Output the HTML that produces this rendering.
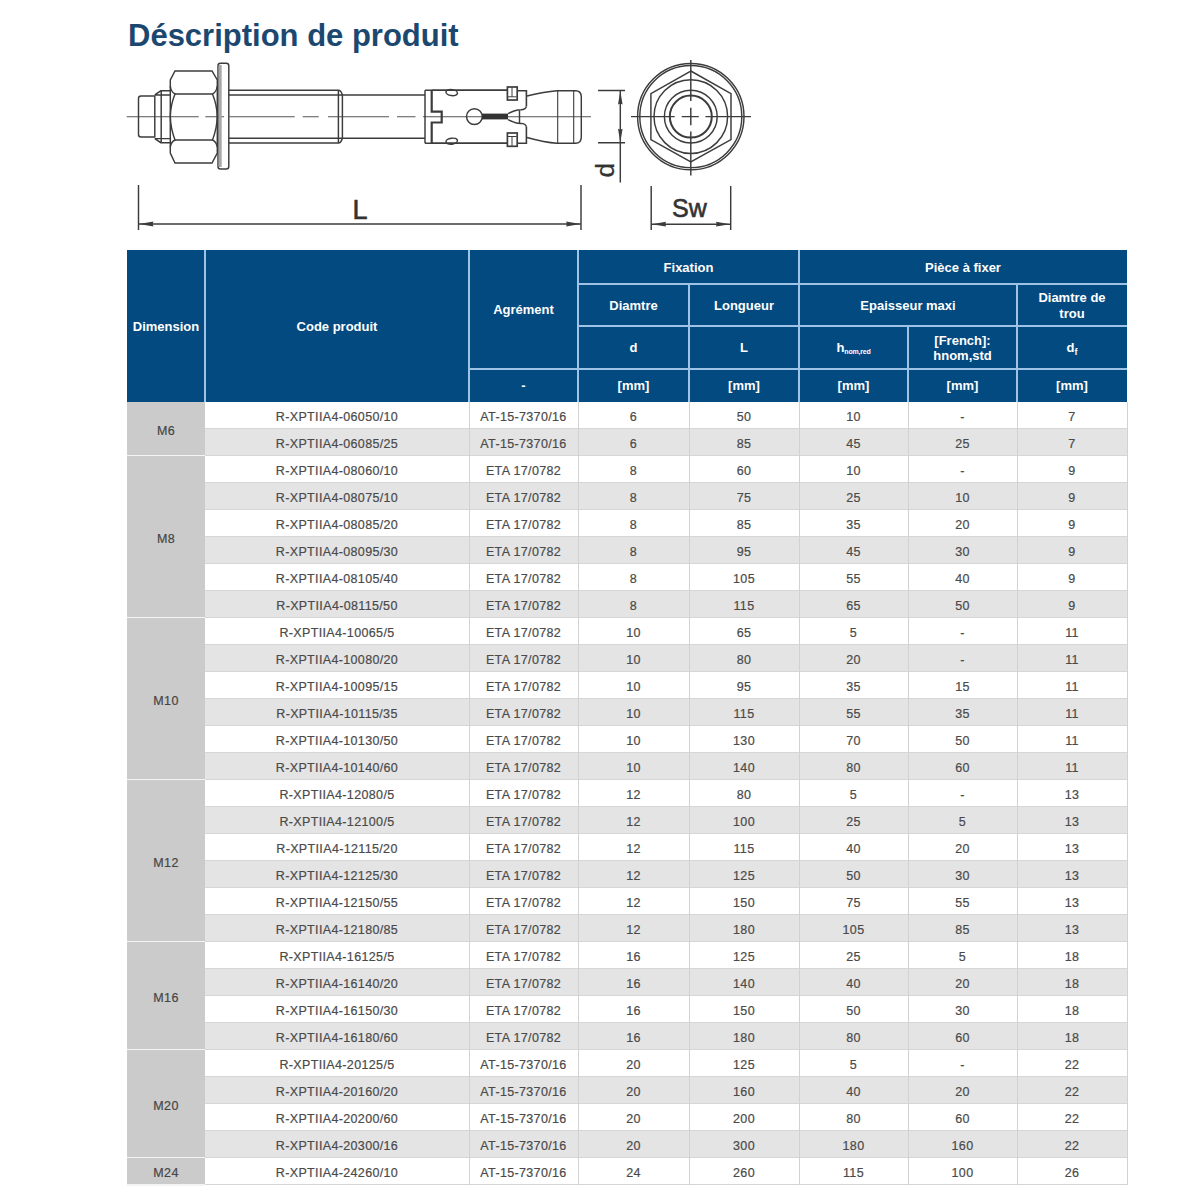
<!DOCTYPE html><html><head><meta charset="utf-8"><style>
*{margin:0;padding:0;box-sizing:border-box}
html,body{width:1200px;height:1200px;background:#fff;overflow:hidden}
body{position:relative;font-family:"Liberation Sans",sans-serif}
.t{position:absolute;left:128px;top:18px;font-size:31px;font-weight:bold;color:#1c4870;white-space:nowrap;letter-spacing:0px}
.h{position:absolute;background:#034a80;color:#fff;font-weight:bold;font-size:13px;display:flex;align-items:center;justify-content:center;text-align:center;line-height:15px}
.c{position:absolute;display:flex;align-items:center;justify-content:center;font-size:12.5px;letter-spacing:0.35px;color:#4a4a4a;white-space:nowrap;-webkit-text-stroke:0.2px #4a4a4a;padding-top:2px}
.r{position:absolute;left:205px;width:922px;height:27px}
.g{position:absolute;left:127px;width:78px;background:#cbcbcb;display:flex;align-items:center;justify-content:center;font-size:12.5px;letter-spacing:0.35px;color:#444;-webkit-text-stroke:0.2px #4a4a4a;padding-top:3px}
.vl{position:absolute;width:1px;background:#d2d2d2}
.hl{position:absolute;height:1px;background:#d6d6d6}
svg{position:absolute;left:0;top:0}
</style></head><body>
<div class="t">Déscription de produit</div>
<svg width="1200" height="250" viewBox="0 0 1200 250">
<g fill="none" stroke="#3c3c3c" stroke-width="1.45">
<path d="M126.7,116.7 H198.7 M205.3,116.7 H224 M229.3,116.7 H294.7 M302.7,116.7 H318.7 M328,116.7 H389 M397,116.7 H415.5 M423,116.7 H591" stroke="#555" stroke-width="1.1"/>
<path d="M141,96 H154.8 V136.9 H141 Q138.5,136.9 138.5,134.4 V98.5 Q138.5,96 141,96 Z"/>
<path d="M154.8,94.9 L160.8,90.8 H170.3 M154.8,94.9 H170.3 M161.2,90.8 V142.7 M154.8,138.6 H170.3 M154.8,138.6 L160.8,142.7 H170.3"/>
<path d="M175,71 H212 L217.3,80 V153 L212,163 H175 L170.3,153 V80 Z"/>
<path d="M175,93.9 H212.5 M175,140 H212.5"/>
<path d="M170.3,86 Q171,92 175,93.9 Q170.5,105 170.3,116.5 Q170.5,128 175,140 Q171,142 170.3,147"/>
<path d="M217.3,86 Q216.5,92 212.5,93.9 Q217,105 217.3,116.5 Q217,128 212.5,140 Q216.5,142 217.3,147"/>
<path d="M220.5,63.3 H226.3 Q228.8,63.3 228.8,65.8 V166.5 Q228.8,169 226.3,169 H220.5 Q218,169 218,166.5 V65.8 Q218,63.3 220.5,63.3 Z"/>
<line x1="220.2" y1="65" x2="220.2" y2="167" stroke="#a8a8a8" stroke-width="3"/>
<path d="M228.8,90.3 H338.4 Q341,90.3 342.4,95 M228.8,95 H425 M228.8,138.3 H425 M228.8,143 H338.4 Q341,143 342.4,138.3 M338.4,90.3 V143 M342.4,95 V138.3"/>
<path d="M425,90.3 H508 M425,143.3 H508 M425,90.3 V143.3"/>
<path d="M431.7,90.3 V111.7 H441.7 V122.5 H431.7 V143.3" stroke-width="2.2"/>
<path d="M431.7,90.3 H508 M431.7,143.3 H508" stroke-width="1.6"/>
<ellipse cx="451.7" cy="92.6" rx="5.8" ry="3" transform="rotate(8 451.7 92.6)"/>
<ellipse cx="451.7" cy="141.2" rx="5.8" ry="3" transform="rotate(-8 451.7 141.2)"/>
<circle cx="474.4" cy="116.6" r="7.9"/>
<rect x="482" y="113.6" width="26" height="5.8" fill="#333" stroke="none"/>
<path d="M508,113.6 Q512,111.8 514,111 Q518,109.8 521,109.8 Q525.5,109.6 526.4,106.5 M508,119.6 Q512,121.4 514,122.2 Q518,123.4 521,123.4 Q525.5,123.6 526.4,126.7 M519.5,110 V123.2" />
<path d="M517,90.7 H526.4 V106.5 M517,143.3 H526.4 V126.7" stroke-width="1.6"/>
<rect x="507.4" y="87" width="9.8" height="13" stroke-width="1.7"/>
<path d="M508,96.8 H516.6 M512,87.5 V96.8" stroke-width="1"/>
<rect x="507.4" y="133" width="9.8" height="13.3" stroke-width="1.7"/>
<path d="M508,136.5 H516.6 M512,136.5 V145.8" stroke-width="1"/>
<path d="M527,96 Q545,91.5 557,90.7 H575.5 Q581.3,90.7 581.3,97 V137 Q581.3,143.3 575.5,143.3 H557 Q545,142.5 527,137.5"/>
<path d="M557.7,90.7 V143.3 M573.7,90.7 V143.3" stroke-width="1.1"/>
<path d="M598,90.5 H625 M598,142.7 H625 M620.3,90.5 V182.6"/>
<path d="M620.3,91 L622.6,104.5 Q620.3,103 618,104.5 Z M620.3,142.2 L622.6,128.7 Q620.3,130.2 618,128.7 Z" fill="#3c3c3c" stroke="none"/>
<path d="M138.5,185 V230 M581,185 V230 M138.5,224 H581"/>
<path d="M139,224 L153.5,221.6 Q152,224 153.5,226.4 Z M580.5,224 L566,221.6 Q567.5,224 566,226.4 Z" fill="#3c3c3c" stroke="none"/>
<path d="M651.2,186 V230 M730.7,186 V230 M651.2,224.2 H730.7"/>
<path d="M651.7,224.2 L666,221.8 Q664.5,224.2 666,226.6 Z M730.2,224.2 L716,221.8 Q717.5,224.2 716,226.6 Z" fill="#3c3c3c" stroke="none"/>
<circle cx="690.8" cy="116.6" r="53.2"/>
<circle cx="690.8" cy="116.6" r="51"/>
<path d="M690.8,71 L731,93.6 V139.6 L690.8,161.8 L650.9,139.6 V93.6 Z"/>
<circle cx="690.8" cy="116.6" r="36.8"/>
<circle cx="690.8" cy="116.6" r="26.4"/>
<circle cx="690.8" cy="116.6" r="21" stroke-width="2"/>
<path d="M631,116.6 H674.7 M681.7,116.6 H698.8 M705.5,116.6 H751 M690.8,60 V101 M690.8,107.7 V125.3 M690.8,131.5 V175.4"/>
</g>
<g fill="#333" stroke="#333" stroke-width="0.6" font-family="Liberation Sans, sans-serif">
<text x="352.5" y="218.7" font-size="27">L</text>
<text x="672" y="217.4" font-size="25">Sw</text>
<text transform="translate(614,177.5) rotate(-90)" font-size="26" stroke-width="0.3">d</text>
</g>
</svg>
<div style="position:absolute;left:127px;top:250px;width:1000px;height:152px;background:#034a80"></div>
<div class="h" style="left:127px;top:250px;width:78px;height:152px;background:transparent;">Dimension</div>
<div class="h" style="left:205px;top:250px;width:264px;height:152px;background:transparent;">Code produit</div>
<div class="h" style="left:469px;top:250px;width:109px;height:119px;background:transparent;">Agrément</div>
<div class="h" style="left:469px;top:369px;width:109px;height:33px;background:transparent;">-</div>
<div class="h" style="left:578px;top:250px;width:221px;height:34px;background:transparent;">Fixation</div>
<div class="h" style="left:799px;top:250px;width:328px;height:34px;background:transparent;">Pièce à fixer</div>
<div class="h" style="left:578px;top:284px;width:111px;height:42px;background:transparent;">Diamtre</div>
<div class="h" style="left:689px;top:284px;width:110px;height:42px;background:transparent;">Longueur</div>
<div class="h" style="left:799px;top:284px;width:218px;height:42px;background:transparent;">Epaisseur maxi</div>
<div class="h" style="left:1017px;top:284px;width:110px;height:42px;background:transparent;line-height:16px;padding-top:1px">Diamtre de<br>trou</div>
<div class="h" style="left:578px;top:326px;width:111px;height:43px;background:transparent;">d</div>
<div class="h" style="left:689px;top:326px;width:110px;height:43px;background:transparent;">L</div>
<div class="h" style="left:799px;top:326px;width:109px;height:43px;background:transparent;">h<span style="font-size:7px;position:relative;top:4px;letter-spacing:-0.2px">nom,red</span></div>
<div class="h" style="left:908px;top:326px;width:109px;height:43px;background:transparent;">[French]:<br>hnom,std</div>
<div class="h" style="left:1017px;top:326px;width:110px;height:43px;background:transparent;">d<span style="font-size:9px;position:relative;top:5px">f</span></div>
<div class="h" style="left:578px;top:369px;width:111px;height:33px;background:transparent;">[mm]</div>
<div class="h" style="left:689px;top:369px;width:110px;height:33px;background:transparent;">[mm]</div>
<div class="h" style="left:799px;top:369px;width:109px;height:33px;background:transparent;">[mm]</div>
<div class="h" style="left:908px;top:369px;width:109px;height:33px;background:transparent;">[mm]</div>
<div class="h" style="left:1017px;top:369px;width:110px;height:33px;background:transparent;">[mm]</div>
<div style="position:absolute;left:204px;top:250px;width:2px;height:152px;background:#9fc3e4"></div>
<div style="position:absolute;left:468px;top:250px;width:2px;height:152px;background:#9fc3e4"></div>
<div style="position:absolute;left:577px;top:250px;width:2px;height:152px;background:#9fc3e4"></div>
<div style="position:absolute;left:688px;top:284px;width:2px;height:118px;background:#9fc3e4"></div>
<div style="position:absolute;left:798px;top:250px;width:2px;height:152px;background:#9fc3e4"></div>
<div style="position:absolute;left:907px;top:326px;width:2px;height:76px;background:#9fc3e4"></div>
<div style="position:absolute;left:1016px;top:284px;width:2px;height:118px;background:#9fc3e4"></div>
<div style="position:absolute;left:578px;top:283px;width:549px;height:2px;background:#9fc3e4"></div>
<div style="position:absolute;left:578px;top:325px;width:549px;height:2px;background:#9fc3e4"></div>
<div style="position:absolute;left:469px;top:368px;width:658px;height:2px;background:#9fc3e4"></div>
<div class="r" style="top:402px;background:#ffffff"></div>
<div class="c" style="left:205px;top:402px;width:264px;height:27px">R-XPTIIA4-06050/10</div>
<div class="c" style="left:469px;top:402px;width:109px;height:27px">AT-15-7370/16</div>
<div class="c" style="left:578px;top:402px;width:111px;height:27px">6</div>
<div class="c" style="left:689px;top:402px;width:110px;height:27px">50</div>
<div class="c" style="left:799px;top:402px;width:109px;height:27px">10</div>
<div class="c" style="left:908px;top:402px;width:109px;height:27px">-</div>
<div class="c" style="left:1017px;top:402px;width:110px;height:27px">7</div>
<div style="position:absolute;left:205px;top:428px;width:923px;height:1px;background:#d6d6d6"></div>
<div class="r" style="top:429px;background:#e4e4e4"></div>
<div class="c" style="left:205px;top:429px;width:264px;height:27px">R-XPTIIA4-06085/25</div>
<div class="c" style="left:469px;top:429px;width:109px;height:27px">AT-15-7370/16</div>
<div class="c" style="left:578px;top:429px;width:111px;height:27px">6</div>
<div class="c" style="left:689px;top:429px;width:110px;height:27px">85</div>
<div class="c" style="left:799px;top:429px;width:109px;height:27px">45</div>
<div class="c" style="left:908px;top:429px;width:109px;height:27px">25</div>
<div class="c" style="left:1017px;top:429px;width:110px;height:27px">7</div>
<div style="position:absolute;left:205px;top:455px;width:923px;height:1px;background:#d6d6d6"></div>
<div class="g" style="top:402px;height:54px">M6</div>
<div style="position:absolute;left:127px;top:455px;width:78px;height:2px;background:#f4f4f4"></div>
<div class="r" style="top:456px;background:#ffffff"></div>
<div class="c" style="left:205px;top:456px;width:264px;height:27px">R-XPTIIA4-08060/10</div>
<div class="c" style="left:469px;top:456px;width:109px;height:27px">ETA 17/0782</div>
<div class="c" style="left:578px;top:456px;width:111px;height:27px">8</div>
<div class="c" style="left:689px;top:456px;width:110px;height:27px">60</div>
<div class="c" style="left:799px;top:456px;width:109px;height:27px">10</div>
<div class="c" style="left:908px;top:456px;width:109px;height:27px">-</div>
<div class="c" style="left:1017px;top:456px;width:110px;height:27px">9</div>
<div style="position:absolute;left:205px;top:482px;width:923px;height:1px;background:#d6d6d6"></div>
<div class="r" style="top:483px;background:#e4e4e4"></div>
<div class="c" style="left:205px;top:483px;width:264px;height:27px">R-XPTIIA4-08075/10</div>
<div class="c" style="left:469px;top:483px;width:109px;height:27px">ETA 17/0782</div>
<div class="c" style="left:578px;top:483px;width:111px;height:27px">8</div>
<div class="c" style="left:689px;top:483px;width:110px;height:27px">75</div>
<div class="c" style="left:799px;top:483px;width:109px;height:27px">25</div>
<div class="c" style="left:908px;top:483px;width:109px;height:27px">10</div>
<div class="c" style="left:1017px;top:483px;width:110px;height:27px">9</div>
<div style="position:absolute;left:205px;top:509px;width:923px;height:1px;background:#d6d6d6"></div>
<div class="r" style="top:510px;background:#ffffff"></div>
<div class="c" style="left:205px;top:510px;width:264px;height:27px">R-XPTIIA4-08085/20</div>
<div class="c" style="left:469px;top:510px;width:109px;height:27px">ETA 17/0782</div>
<div class="c" style="left:578px;top:510px;width:111px;height:27px">8</div>
<div class="c" style="left:689px;top:510px;width:110px;height:27px">85</div>
<div class="c" style="left:799px;top:510px;width:109px;height:27px">35</div>
<div class="c" style="left:908px;top:510px;width:109px;height:27px">20</div>
<div class="c" style="left:1017px;top:510px;width:110px;height:27px">9</div>
<div style="position:absolute;left:205px;top:536px;width:923px;height:1px;background:#d6d6d6"></div>
<div class="r" style="top:537px;background:#e4e4e4"></div>
<div class="c" style="left:205px;top:537px;width:264px;height:27px">R-XPTIIA4-08095/30</div>
<div class="c" style="left:469px;top:537px;width:109px;height:27px">ETA 17/0782</div>
<div class="c" style="left:578px;top:537px;width:111px;height:27px">8</div>
<div class="c" style="left:689px;top:537px;width:110px;height:27px">95</div>
<div class="c" style="left:799px;top:537px;width:109px;height:27px">45</div>
<div class="c" style="left:908px;top:537px;width:109px;height:27px">30</div>
<div class="c" style="left:1017px;top:537px;width:110px;height:27px">9</div>
<div style="position:absolute;left:205px;top:563px;width:923px;height:1px;background:#d6d6d6"></div>
<div class="r" style="top:564px;background:#ffffff"></div>
<div class="c" style="left:205px;top:564px;width:264px;height:27px">R-XPTIIA4-08105/40</div>
<div class="c" style="left:469px;top:564px;width:109px;height:27px">ETA 17/0782</div>
<div class="c" style="left:578px;top:564px;width:111px;height:27px">8</div>
<div class="c" style="left:689px;top:564px;width:110px;height:27px">105</div>
<div class="c" style="left:799px;top:564px;width:109px;height:27px">55</div>
<div class="c" style="left:908px;top:564px;width:109px;height:27px">40</div>
<div class="c" style="left:1017px;top:564px;width:110px;height:27px">9</div>
<div style="position:absolute;left:205px;top:590px;width:923px;height:1px;background:#d6d6d6"></div>
<div class="r" style="top:591px;background:#e4e4e4"></div>
<div class="c" style="left:205px;top:591px;width:264px;height:27px">R-XPTIIA4-08115/50</div>
<div class="c" style="left:469px;top:591px;width:109px;height:27px">ETA 17/0782</div>
<div class="c" style="left:578px;top:591px;width:111px;height:27px">8</div>
<div class="c" style="left:689px;top:591px;width:110px;height:27px">115</div>
<div class="c" style="left:799px;top:591px;width:109px;height:27px">65</div>
<div class="c" style="left:908px;top:591px;width:109px;height:27px">50</div>
<div class="c" style="left:1017px;top:591px;width:110px;height:27px">9</div>
<div style="position:absolute;left:205px;top:617px;width:923px;height:1px;background:#d6d6d6"></div>
<div class="g" style="top:456px;height:162px">M8</div>
<div style="position:absolute;left:127px;top:617px;width:78px;height:2px;background:#f4f4f4"></div>
<div class="r" style="top:618px;background:#ffffff"></div>
<div class="c" style="left:205px;top:618px;width:264px;height:27px">R-XPTIIA4-10065/5</div>
<div class="c" style="left:469px;top:618px;width:109px;height:27px">ETA 17/0782</div>
<div class="c" style="left:578px;top:618px;width:111px;height:27px">10</div>
<div class="c" style="left:689px;top:618px;width:110px;height:27px">65</div>
<div class="c" style="left:799px;top:618px;width:109px;height:27px">5</div>
<div class="c" style="left:908px;top:618px;width:109px;height:27px">-</div>
<div class="c" style="left:1017px;top:618px;width:110px;height:27px">11</div>
<div style="position:absolute;left:205px;top:644px;width:923px;height:1px;background:#d6d6d6"></div>
<div class="r" style="top:645px;background:#e4e4e4"></div>
<div class="c" style="left:205px;top:645px;width:264px;height:27px">R-XPTIIA4-10080/20</div>
<div class="c" style="left:469px;top:645px;width:109px;height:27px">ETA 17/0782</div>
<div class="c" style="left:578px;top:645px;width:111px;height:27px">10</div>
<div class="c" style="left:689px;top:645px;width:110px;height:27px">80</div>
<div class="c" style="left:799px;top:645px;width:109px;height:27px">20</div>
<div class="c" style="left:908px;top:645px;width:109px;height:27px">-</div>
<div class="c" style="left:1017px;top:645px;width:110px;height:27px">11</div>
<div style="position:absolute;left:205px;top:671px;width:923px;height:1px;background:#d6d6d6"></div>
<div class="r" style="top:672px;background:#ffffff"></div>
<div class="c" style="left:205px;top:672px;width:264px;height:27px">R-XPTIIA4-10095/15</div>
<div class="c" style="left:469px;top:672px;width:109px;height:27px">ETA 17/0782</div>
<div class="c" style="left:578px;top:672px;width:111px;height:27px">10</div>
<div class="c" style="left:689px;top:672px;width:110px;height:27px">95</div>
<div class="c" style="left:799px;top:672px;width:109px;height:27px">35</div>
<div class="c" style="left:908px;top:672px;width:109px;height:27px">15</div>
<div class="c" style="left:1017px;top:672px;width:110px;height:27px">11</div>
<div style="position:absolute;left:205px;top:698px;width:923px;height:1px;background:#d6d6d6"></div>
<div class="r" style="top:699px;background:#e4e4e4"></div>
<div class="c" style="left:205px;top:699px;width:264px;height:27px">R-XPTIIA4-10115/35</div>
<div class="c" style="left:469px;top:699px;width:109px;height:27px">ETA 17/0782</div>
<div class="c" style="left:578px;top:699px;width:111px;height:27px">10</div>
<div class="c" style="left:689px;top:699px;width:110px;height:27px">115</div>
<div class="c" style="left:799px;top:699px;width:109px;height:27px">55</div>
<div class="c" style="left:908px;top:699px;width:109px;height:27px">35</div>
<div class="c" style="left:1017px;top:699px;width:110px;height:27px">11</div>
<div style="position:absolute;left:205px;top:725px;width:923px;height:1px;background:#d6d6d6"></div>
<div class="r" style="top:726px;background:#ffffff"></div>
<div class="c" style="left:205px;top:726px;width:264px;height:27px">R-XPTIIA4-10130/50</div>
<div class="c" style="left:469px;top:726px;width:109px;height:27px">ETA 17/0782</div>
<div class="c" style="left:578px;top:726px;width:111px;height:27px">10</div>
<div class="c" style="left:689px;top:726px;width:110px;height:27px">130</div>
<div class="c" style="left:799px;top:726px;width:109px;height:27px">70</div>
<div class="c" style="left:908px;top:726px;width:109px;height:27px">50</div>
<div class="c" style="left:1017px;top:726px;width:110px;height:27px">11</div>
<div style="position:absolute;left:205px;top:752px;width:923px;height:1px;background:#d6d6d6"></div>
<div class="r" style="top:753px;background:#e4e4e4"></div>
<div class="c" style="left:205px;top:753px;width:264px;height:27px">R-XPTIIA4-10140/60</div>
<div class="c" style="left:469px;top:753px;width:109px;height:27px">ETA 17/0782</div>
<div class="c" style="left:578px;top:753px;width:111px;height:27px">10</div>
<div class="c" style="left:689px;top:753px;width:110px;height:27px">140</div>
<div class="c" style="left:799px;top:753px;width:109px;height:27px">80</div>
<div class="c" style="left:908px;top:753px;width:109px;height:27px">60</div>
<div class="c" style="left:1017px;top:753px;width:110px;height:27px">11</div>
<div style="position:absolute;left:205px;top:779px;width:923px;height:1px;background:#d6d6d6"></div>
<div class="g" style="top:618px;height:162px">M10</div>
<div style="position:absolute;left:127px;top:779px;width:78px;height:2px;background:#f4f4f4"></div>
<div class="r" style="top:780px;background:#ffffff"></div>
<div class="c" style="left:205px;top:780px;width:264px;height:27px">R-XPTIIA4-12080/5</div>
<div class="c" style="left:469px;top:780px;width:109px;height:27px">ETA 17/0782</div>
<div class="c" style="left:578px;top:780px;width:111px;height:27px">12</div>
<div class="c" style="left:689px;top:780px;width:110px;height:27px">80</div>
<div class="c" style="left:799px;top:780px;width:109px;height:27px">5</div>
<div class="c" style="left:908px;top:780px;width:109px;height:27px">-</div>
<div class="c" style="left:1017px;top:780px;width:110px;height:27px">13</div>
<div style="position:absolute;left:205px;top:806px;width:923px;height:1px;background:#d6d6d6"></div>
<div class="r" style="top:807px;background:#e4e4e4"></div>
<div class="c" style="left:205px;top:807px;width:264px;height:27px">R-XPTIIA4-12100/5</div>
<div class="c" style="left:469px;top:807px;width:109px;height:27px">ETA 17/0782</div>
<div class="c" style="left:578px;top:807px;width:111px;height:27px">12</div>
<div class="c" style="left:689px;top:807px;width:110px;height:27px">100</div>
<div class="c" style="left:799px;top:807px;width:109px;height:27px">25</div>
<div class="c" style="left:908px;top:807px;width:109px;height:27px">5</div>
<div class="c" style="left:1017px;top:807px;width:110px;height:27px">13</div>
<div style="position:absolute;left:205px;top:833px;width:923px;height:1px;background:#d6d6d6"></div>
<div class="r" style="top:834px;background:#ffffff"></div>
<div class="c" style="left:205px;top:834px;width:264px;height:27px">R-XPTIIA4-12115/20</div>
<div class="c" style="left:469px;top:834px;width:109px;height:27px">ETA 17/0782</div>
<div class="c" style="left:578px;top:834px;width:111px;height:27px">12</div>
<div class="c" style="left:689px;top:834px;width:110px;height:27px">115</div>
<div class="c" style="left:799px;top:834px;width:109px;height:27px">40</div>
<div class="c" style="left:908px;top:834px;width:109px;height:27px">20</div>
<div class="c" style="left:1017px;top:834px;width:110px;height:27px">13</div>
<div style="position:absolute;left:205px;top:860px;width:923px;height:1px;background:#d6d6d6"></div>
<div class="r" style="top:861px;background:#e4e4e4"></div>
<div class="c" style="left:205px;top:861px;width:264px;height:27px">R-XPTIIA4-12125/30</div>
<div class="c" style="left:469px;top:861px;width:109px;height:27px">ETA 17/0782</div>
<div class="c" style="left:578px;top:861px;width:111px;height:27px">12</div>
<div class="c" style="left:689px;top:861px;width:110px;height:27px">125</div>
<div class="c" style="left:799px;top:861px;width:109px;height:27px">50</div>
<div class="c" style="left:908px;top:861px;width:109px;height:27px">30</div>
<div class="c" style="left:1017px;top:861px;width:110px;height:27px">13</div>
<div style="position:absolute;left:205px;top:887px;width:923px;height:1px;background:#d6d6d6"></div>
<div class="r" style="top:888px;background:#ffffff"></div>
<div class="c" style="left:205px;top:888px;width:264px;height:27px">R-XPTIIA4-12150/55</div>
<div class="c" style="left:469px;top:888px;width:109px;height:27px">ETA 17/0782</div>
<div class="c" style="left:578px;top:888px;width:111px;height:27px">12</div>
<div class="c" style="left:689px;top:888px;width:110px;height:27px">150</div>
<div class="c" style="left:799px;top:888px;width:109px;height:27px">75</div>
<div class="c" style="left:908px;top:888px;width:109px;height:27px">55</div>
<div class="c" style="left:1017px;top:888px;width:110px;height:27px">13</div>
<div style="position:absolute;left:205px;top:914px;width:923px;height:1px;background:#d6d6d6"></div>
<div class="r" style="top:915px;background:#e4e4e4"></div>
<div class="c" style="left:205px;top:915px;width:264px;height:27px">R-XPTIIA4-12180/85</div>
<div class="c" style="left:469px;top:915px;width:109px;height:27px">ETA 17/0782</div>
<div class="c" style="left:578px;top:915px;width:111px;height:27px">12</div>
<div class="c" style="left:689px;top:915px;width:110px;height:27px">180</div>
<div class="c" style="left:799px;top:915px;width:109px;height:27px">105</div>
<div class="c" style="left:908px;top:915px;width:109px;height:27px">85</div>
<div class="c" style="left:1017px;top:915px;width:110px;height:27px">13</div>
<div style="position:absolute;left:205px;top:941px;width:923px;height:1px;background:#d6d6d6"></div>
<div class="g" style="top:780px;height:162px">M12</div>
<div style="position:absolute;left:127px;top:941px;width:78px;height:2px;background:#f4f4f4"></div>
<div class="r" style="top:942px;background:#ffffff"></div>
<div class="c" style="left:205px;top:942px;width:264px;height:27px">R-XPTIIA4-16125/5</div>
<div class="c" style="left:469px;top:942px;width:109px;height:27px">ETA 17/0782</div>
<div class="c" style="left:578px;top:942px;width:111px;height:27px">16</div>
<div class="c" style="left:689px;top:942px;width:110px;height:27px">125</div>
<div class="c" style="left:799px;top:942px;width:109px;height:27px">25</div>
<div class="c" style="left:908px;top:942px;width:109px;height:27px">5</div>
<div class="c" style="left:1017px;top:942px;width:110px;height:27px">18</div>
<div style="position:absolute;left:205px;top:968px;width:923px;height:1px;background:#d6d6d6"></div>
<div class="r" style="top:969px;background:#e4e4e4"></div>
<div class="c" style="left:205px;top:969px;width:264px;height:27px">R-XPTIIA4-16140/20</div>
<div class="c" style="left:469px;top:969px;width:109px;height:27px">ETA 17/0782</div>
<div class="c" style="left:578px;top:969px;width:111px;height:27px">16</div>
<div class="c" style="left:689px;top:969px;width:110px;height:27px">140</div>
<div class="c" style="left:799px;top:969px;width:109px;height:27px">40</div>
<div class="c" style="left:908px;top:969px;width:109px;height:27px">20</div>
<div class="c" style="left:1017px;top:969px;width:110px;height:27px">18</div>
<div style="position:absolute;left:205px;top:995px;width:923px;height:1px;background:#d6d6d6"></div>
<div class="r" style="top:996px;background:#ffffff"></div>
<div class="c" style="left:205px;top:996px;width:264px;height:27px">R-XPTIIA4-16150/30</div>
<div class="c" style="left:469px;top:996px;width:109px;height:27px">ETA 17/0782</div>
<div class="c" style="left:578px;top:996px;width:111px;height:27px">16</div>
<div class="c" style="left:689px;top:996px;width:110px;height:27px">150</div>
<div class="c" style="left:799px;top:996px;width:109px;height:27px">50</div>
<div class="c" style="left:908px;top:996px;width:109px;height:27px">30</div>
<div class="c" style="left:1017px;top:996px;width:110px;height:27px">18</div>
<div style="position:absolute;left:205px;top:1022px;width:923px;height:1px;background:#d6d6d6"></div>
<div class="r" style="top:1023px;background:#e4e4e4"></div>
<div class="c" style="left:205px;top:1023px;width:264px;height:27px">R-XPTIIA4-16180/60</div>
<div class="c" style="left:469px;top:1023px;width:109px;height:27px">ETA 17/0782</div>
<div class="c" style="left:578px;top:1023px;width:111px;height:27px">16</div>
<div class="c" style="left:689px;top:1023px;width:110px;height:27px">180</div>
<div class="c" style="left:799px;top:1023px;width:109px;height:27px">80</div>
<div class="c" style="left:908px;top:1023px;width:109px;height:27px">60</div>
<div class="c" style="left:1017px;top:1023px;width:110px;height:27px">18</div>
<div style="position:absolute;left:205px;top:1049px;width:923px;height:1px;background:#d6d6d6"></div>
<div class="g" style="top:942px;height:108px">M16</div>
<div style="position:absolute;left:127px;top:1049px;width:78px;height:2px;background:#f4f4f4"></div>
<div class="r" style="top:1050px;background:#ffffff"></div>
<div class="c" style="left:205px;top:1050px;width:264px;height:27px">R-XPTIIA4-20125/5</div>
<div class="c" style="left:469px;top:1050px;width:109px;height:27px">AT-15-7370/16</div>
<div class="c" style="left:578px;top:1050px;width:111px;height:27px">20</div>
<div class="c" style="left:689px;top:1050px;width:110px;height:27px">125</div>
<div class="c" style="left:799px;top:1050px;width:109px;height:27px">5</div>
<div class="c" style="left:908px;top:1050px;width:109px;height:27px">-</div>
<div class="c" style="left:1017px;top:1050px;width:110px;height:27px">22</div>
<div style="position:absolute;left:205px;top:1076px;width:923px;height:1px;background:#d6d6d6"></div>
<div class="r" style="top:1077px;background:#e4e4e4"></div>
<div class="c" style="left:205px;top:1077px;width:264px;height:27px">R-XPTIIA4-20160/20</div>
<div class="c" style="left:469px;top:1077px;width:109px;height:27px">AT-15-7370/16</div>
<div class="c" style="left:578px;top:1077px;width:111px;height:27px">20</div>
<div class="c" style="left:689px;top:1077px;width:110px;height:27px">160</div>
<div class="c" style="left:799px;top:1077px;width:109px;height:27px">40</div>
<div class="c" style="left:908px;top:1077px;width:109px;height:27px">20</div>
<div class="c" style="left:1017px;top:1077px;width:110px;height:27px">22</div>
<div style="position:absolute;left:205px;top:1103px;width:923px;height:1px;background:#d6d6d6"></div>
<div class="r" style="top:1104px;background:#ffffff"></div>
<div class="c" style="left:205px;top:1104px;width:264px;height:27px">R-XPTIIA4-20200/60</div>
<div class="c" style="left:469px;top:1104px;width:109px;height:27px">AT-15-7370/16</div>
<div class="c" style="left:578px;top:1104px;width:111px;height:27px">20</div>
<div class="c" style="left:689px;top:1104px;width:110px;height:27px">200</div>
<div class="c" style="left:799px;top:1104px;width:109px;height:27px">80</div>
<div class="c" style="left:908px;top:1104px;width:109px;height:27px">60</div>
<div class="c" style="left:1017px;top:1104px;width:110px;height:27px">22</div>
<div style="position:absolute;left:205px;top:1130px;width:923px;height:1px;background:#d6d6d6"></div>
<div class="r" style="top:1131px;background:#e4e4e4"></div>
<div class="c" style="left:205px;top:1131px;width:264px;height:27px">R-XPTIIA4-20300/16</div>
<div class="c" style="left:469px;top:1131px;width:109px;height:27px">AT-15-7370/16</div>
<div class="c" style="left:578px;top:1131px;width:111px;height:27px">20</div>
<div class="c" style="left:689px;top:1131px;width:110px;height:27px">300</div>
<div class="c" style="left:799px;top:1131px;width:109px;height:27px">180</div>
<div class="c" style="left:908px;top:1131px;width:109px;height:27px">160</div>
<div class="c" style="left:1017px;top:1131px;width:110px;height:27px">22</div>
<div style="position:absolute;left:205px;top:1157px;width:923px;height:1px;background:#d6d6d6"></div>
<div class="g" style="top:1050px;height:108px">M20</div>
<div style="position:absolute;left:127px;top:1157px;width:78px;height:2px;background:#f4f4f4"></div>
<div class="r" style="top:1158px;background:#ffffff"></div>
<div class="c" style="left:205px;top:1158px;width:264px;height:27px">R-XPTIIA4-24260/10</div>
<div class="c" style="left:469px;top:1158px;width:109px;height:27px">AT-15-7370/16</div>
<div class="c" style="left:578px;top:1158px;width:111px;height:27px">24</div>
<div class="c" style="left:689px;top:1158px;width:110px;height:27px">260</div>
<div class="c" style="left:799px;top:1158px;width:109px;height:27px">115</div>
<div class="c" style="left:908px;top:1158px;width:109px;height:27px">100</div>
<div class="c" style="left:1017px;top:1158px;width:110px;height:27px">26</div>
<div style="position:absolute;left:205px;top:1184px;width:923px;height:1px;background:#d6d6d6"></div>
<div class="g" style="top:1158px;height:27px">M24</div>
<div style="position:absolute;left:127px;top:1184px;width:78px;height:2px;background:#f4f4f4"></div>
<div style="position:absolute;left:469px;top:402px;width:1px;height:783px;background:#d2d2d2"></div>
<div style="position:absolute;left:578px;top:402px;width:1px;height:783px;background:#d2d2d2"></div>
<div style="position:absolute;left:689px;top:402px;width:1px;height:783px;background:#d2d2d2"></div>
<div style="position:absolute;left:799px;top:402px;width:1px;height:783px;background:#d2d2d2"></div>
<div style="position:absolute;left:908px;top:402px;width:1px;height:783px;background:#d2d2d2"></div>
<div style="position:absolute;left:1017px;top:402px;width:1px;height:783px;background:#d2d2d2"></div>
<div style="position:absolute;left:1127px;top:402px;width:1px;height:783px;background:#d2d2d2"></div>
</body></html>
